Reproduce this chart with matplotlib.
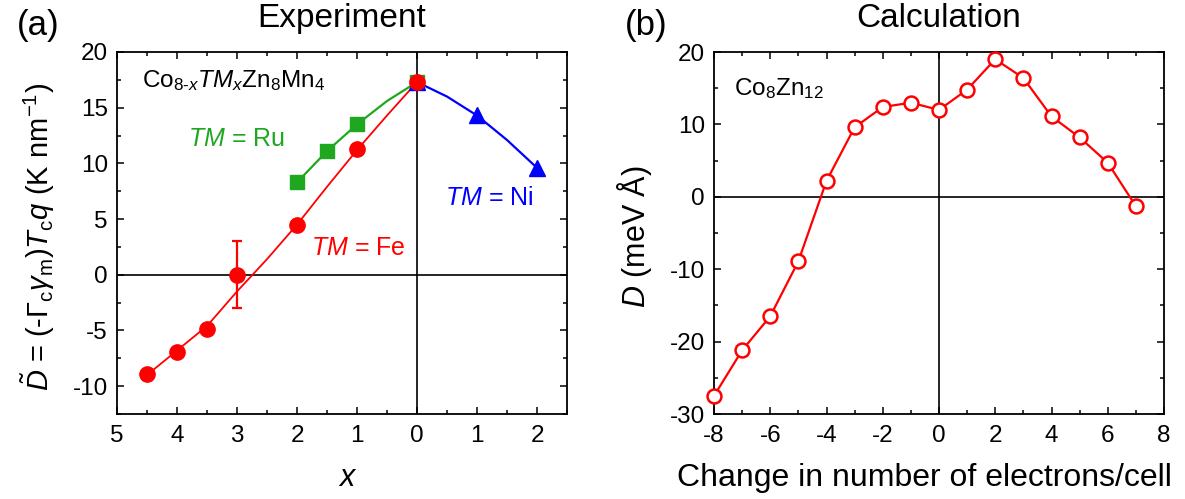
import matplotlib
matplotlib.use("Agg")
import matplotlib.pyplot as plt
from matplotlib.ticker import MultipleLocator, FuncFormatter

plt.rcParams['font.family'] = ['Liberation Sans', 'DejaVu Sans']
plt.rcParams['mathtext.fontset'] = 'custom'
plt.rcParams['mathtext.rm'] = 'Liberation Sans'
plt.rcParams['mathtext.it'] = 'Liberation Sans:italic'
plt.rcParams['mathtext.bf'] = 'Liberation Sans:bold'
plt.rcParams['axes.unicode_minus'] = False

# ---------------- data: panel (a) Experiment ----------------
fe_x = [4.5, 4.0, 3.5, 3.0, 2.0, 1.0, 0.0]
fe_y = [-8.9, -6.9, -4.9, 0.0, 4.5, 11.3, 17.3]
fe_err = [0, 0, 0, 3.0, 0, 0, 0]
fe_fit_x = [4.5, 4.0, 3.5, 3.0, 2.5, 2.0, 1.5, 1.0, 0.5, 0.0]
fe_fit_y = [-9.0, -6.8, -4.6, -1.5, 1.4, 4.5, 7.9, 11.2, 14.3, 17.3]

ru_x = [2.0, 1.5, 1.0, 0.0]
ru_y = [8.3, 11.1, 13.5, 17.3]
ru_fit_x = [2.0, 1.5, 1.0, 0.5, 0.0]
ru_fit_y = [8.3, 11.1, 13.5, 15.6, 17.3]

ni_x = [0.0, 1.0, 2.0]
ni_y = [17.3, 14.3, 9.6]
ni_fit_x = [0.0, 0.5, 1.0, 1.5, 2.0]
ni_fit_y = [17.3, 16.0, 14.3, 12.1, 9.6]

a_xticks = [-5, -4, -3, -2, -1, 0, 1, 2]
a_yticks = [-10, -5, 0, 5, 10, 15, 20]

# ---------------- data: panel (b) Calculation ----------------
b_x = [-8, -7, -6, -5, -4, -3, -2, -1, 0, 1, 2, 3, 4, 5, 6, 7]
b_y = [-27.5, -21.2, -16.5, -8.9, 2.2, 9.6, 12.4, 13.0, 12.0, 14.8, 19.0, 16.4, 11.1, 8.2, 4.7, -1.3]
b_xticks = [-8, -6, -4, -2, 0, 2, 4, 6, 8]
b_yticks = [-30, -20, -10, 0, 10, 20]

W, H = 1185, 499
fig = plt.figure(figsize=(W / 100, H / 100), dpi=100)

AX_TOP, AX_BOT = 52, 414
A_L, A_R = 117, 567
B_L, B_R = 714, 1164

def px_axes(x0, y0, x1, y1):
    return fig.add_axes([x0 / W, 1 - y1 / H, (x1 - x0) / W, (y1 - y0) / H])

axa = px_axes(A_L, AX_TOP, A_R, AX_BOT)
axb = px_axes(B_L, AX_TOP, B_R, AX_BOT)

RED = '#ff0000'
GREEN = '#1fa81f'
BLUE = '#0000ff'
TICKFS = 17.5
LABFS = 22
TITLEFS = 24
ANNFS = 17.5

def style(ax):
    for s in ax.spines.values():
        s.set_linewidth(1.3)
    ax.tick_params(which='both', direction='in', top=True, right=True,
                   width=1.1, labelsize=TICKFS)
    ax.tick_params(axis='y', pad=6.5)
    ax.tick_params(axis='x', pad=8)
    ax.tick_params(which='major', length=5)
    ax.tick_params(which='minor', length=3)

def fy(py):
    # pixel row -> axes fraction
    return (AX_BOT - py) / (AX_BOT - AX_TOP)

# ---- panel (a)
neg = lambda xs: [-v for v in xs]
axa.axhline(0, color='black', lw=1.2, zorder=1)
axa.axvline(0, color='black', lw=1.2, zorder=1)
axa.plot(neg(ru_fit_x), ru_fit_y, color=GREEN, lw=1.6, zorder=2)
axa.plot(neg(ru_x), ru_y, ls='none', marker='s', ms=9.5, color=GREEN, zorder=3)
axa.plot(ni_fit_x, ni_fit_y, color=BLUE, lw=1.6, zorder=2)
axa.plot(ni_x, ni_y, ls='none', marker='^', ms=11, color=BLUE, zorder=3)
axa.plot(neg(fe_fit_x), fe_fit_y, color=RED, lw=1.3, zorder=2)
axa.errorbar(neg(fe_x), fe_y, yerr=fe_err, ls='none', marker='o', ms=11,
             color=RED, ecolor=RED, elinewidth=1.6, capsize=3.3, capthick=1.6, zorder=4)

axa.set_xlim(-5, 2.5)
axa.set_ylim(-12.5, 20)
axa.xaxis.set_major_locator(plt.FixedLocator(a_xticks))
axa.xaxis.set_major_formatter(FuncFormatter(lambda v, p: f"{abs(v):g}"))
axa.xaxis.set_minor_locator(MultipleLocator(0.5))
axa.yaxis.set_major_locator(plt.FixedLocator(a_yticks))
axa.yaxis.set_minor_locator(MultipleLocator(2.5))
style(axa)

axa.set_xlabel(r'$x$', fontsize=LABFS, va='baseline')
axa.xaxis.set_label_coords(0.513, fy(486))
axa.set_ylabel(r'$\tilde{D}$ = (-$\mathit{Γ}_{\rm c}\gamma_{\rm m}$)$T_{\rm c}q$ (K nm$^{-1}$)',
               fontsize=21, va='center')
axa.yaxis.set_label_coords((38 - A_L) / (A_R - A_L), 0.49)

fig.text((A_L + A_R) / 2 / W, 1 - 27 / H, 'Experiment', fontsize=TITLEFS,
         ha='center', va='baseline')

axa.text(0.056, fy(87), r'Co$_{8\text{-}x}$$TM_x$Zn$_8$Mn$_4$', transform=axa.transAxes,
         fontsize=ANNFS, va='baseline', ha='left')
axa.text(0.158, fy(146), r'$TM$ = Ru', transform=axa.transAxes, color=GREEN,
         fontsize=18, va='baseline', ha='left')
axa.text(0.729, fy(205), r'$TM$ = Ni', transform=axa.transAxes, color=BLUE,
         fontsize=18, va='baseline', ha='left')
axa.text(0.431, fy(255), r'$TM$ = Fe', transform=axa.transAxes, color=RED,
         fontsize=18, va='baseline', ha='left')

# ---- panel (b)
axb.axhline(0, color='black', lw=1.2, zorder=1)
axb.axvline(0, color='black', lw=1.2, zorder=1)
axb.plot(b_x, b_y, color=RED, lw=1.6, marker='o', ms=10, mfc='white', mec=RED, mew=1.8,
         zorder=3, clip_on=False)
axb.set_xlim(-8, 8)
axb.set_ylim(-30, 20)
axb.xaxis.set_major_locator(plt.FixedLocator(b_xticks))
axb.xaxis.set_minor_locator(MultipleLocator(1))
axb.yaxis.set_major_locator(plt.FixedLocator(b_yticks))
axb.yaxis.set_minor_locator(MultipleLocator(5))
style(axb)
axb.set_xlabel('Change in number of electrons/cell', fontsize=23, va='baseline')
axb.xaxis.set_label_coords((924 - B_L) / (B_R - B_L), fy(486))
axb.set_ylabel(r'$D$ (meV Å)', fontsize=LABFS, va='center')
axb.yaxis.set_label_coords((634 - B_L) / (B_R - B_L), 0.49)

fig.text((B_L + B_R) / 2 / W, 1 - 27 / H, 'Calculation', fontsize=TITLEFS,
         ha='center', va='baseline')
axb.text(0.044, fy(95), r'Co$_8$Zn$_{12}$', transform=axb.transAxes,
         fontsize=ANNFS, va='baseline', ha='left')

fig.text(17 / W, 1 - 35 / H, '(a)', fontsize=25, va='baseline', ha='left')
fig.text(625 / W, 1 - 35 / H, '(b)', fontsize=25, va='baseline', ha='left')

fig.savefig('out.png', dpi=100)
